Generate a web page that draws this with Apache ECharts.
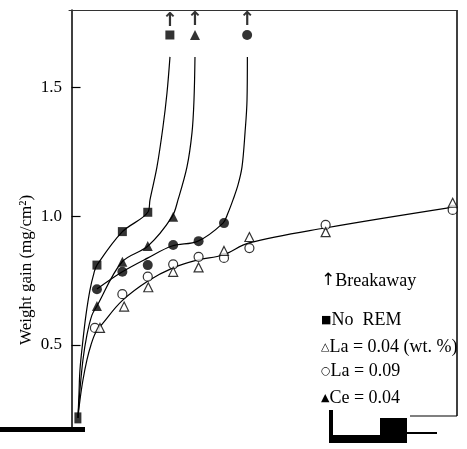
<!DOCTYPE html>
<html><head><meta charset="utf-8">
<script src="https://cdn.jsdelivr.net/npm/echarts@6/dist/echarts.min.js"></script>
<style>html,body{margin:0;padding:0;background:#fff}#c{width:467px;height:449px}</style>
</head><body><div id="c"></div>
<script>
// ---- data (x: exposure index, y: weight gain mg/cm2) ----
const yTicks = [0.5, 1.0, 1.5];
const origin = [[0.25, 0.217]];
const noRemX = [1, 2, 3];
const noRemY = [0.810, 0.940, 1.015];
const ceX = [1, 2, 3, 4];
const ceY = [0.651, 0.823, 0.884, 0.998];
const fcX = [1, 2, 3, 4, 5, 6];
const fcY = [0.716, 0.784, 0.810, 0.888, 0.903, 0.973];
const la09X = [0.92, 2.0, 3.0, 4.0, 5.0, 6.0, 7.0, 10.0, 15.0];
const la09Y = [0.566, 0.697, 0.765, 0.813, 0.842, 0.838, 0.876, 0.966, 1.024];
const la04X = [1.12, 2.07, 3.02, 4.0, 5.0, 6.0, 7.0, 10.0, 15.0];
const la04Y = [0.566, 0.649, 0.724, 0.784, 0.801, 0.865, 0.919, 0.938, 1.052];
const breakX = [3.87, 4.86, 6.91];
const breakY = [1.703, 1.703, 1.703];
// hand-drawn fitted curves
const curveNoRemX = [0.252,0.291,0.331,0.449,0.567,0.724,0.882,1.0,1.984,3.008,3.087,3.362,3.598,3.756,3.874];
const curveNoRemY = [0.217,0.306,0.403,0.519,0.616,0.713,0.779,0.810,0.938,1.016,1.063,1.191,1.346,1.478,1.618];
const curveCeX = [0.252,0.331,0.449,0.606,0.803,1.0,1.984,3.008,3.953,4.189,4.543,4.740,4.819,4.858];
const curveCeY = [0.217,0.325,0.442,0.539,0.616,0.651,0.822,0.884,0.997,1.063,1.191,1.323,1.451,1.618];
const curveFcX = [1.0,1.984,3.008,3.953,4.976,5.961,6.157,6.354,6.551,6.709,6.827,6.906,6.92];
const curveFcY = [0.717,0.783,0.838,0.884,0.903,0.973,1.012,1.063,1.121,1.191,1.323,1.451,1.618];
const curveLaX = [0.252,0.331,0.449,0.606,0.764,0.961,1.236,1.984,3.008,3.992,4.976,5.961,6.984,9.976,15.02];
const curveLaY = [0.217,0.286,0.364,0.442,0.500,0.550,0.585,0.671,0.748,0.799,0.830,0.849,0.896,0.954,1.035];

const zip = (a, b) => a.map((v, i) => [v, b[i]]);
const serif = 'Liberation Serif, DejaVu Serif, serif';
const chart = echarts.init(document.getElementById('c'));

function curve(xs, ys) {
  return { type: 'line', data: zip(xs, ys), smooth: 0.35, showSymbol: false, symbol: 'none',
    lineStyle: { color: '#000', width: 1.2 }, silent: true, z: 2 };
}
function marks(data, symbol, size, filled) {
  return { type: 'scatter', data, symbol, symbolSize: size, z: 5,
    itemStyle: filled ? { color: '#000' } : { color: '#fff', borderColor: '#000', borderWidth: 1.2 } };
}

const legendRich = {
  s: { fontSize: 11, fontFamily: 'DejaVu Sans', fill: '#000' },
  a: { fontSize: 17, fontFamily: 'DejaVu Sans', fill: '#000' },
  t: { fontSize: 18, fontFamily: serif, fill: '#000' }
};
function legText(str, y) {
  return { type: 'text', left: 321, top: y - 11, style: { text: str, rich: legendRich, fill: '#000' } };
}

chart.setOption({
  animation: false,
  backgroundColor: '#fff',
  grid: { left: 69, right: 10, top: 10, bottom: 19 },
  xAxis: [
    { type: 'value', min: -0.1, max: 15.17, axisLine: { show: false }, axisTick: { show: false },
      axisLabel: { show: false }, splitLine: { show: false } },
    { type: 'value', position: 'top', min: -0.1, max: 15.17,
      axisLine: { show: true, lineStyle: { color: '#333', width: 1 } }, axisTick: { show: false },
      axisLabel: { show: false }, splitLine: { show: false } }
  ],
  yAxis: {
    type: 'value', min: 0.17, max: 1.8,
    axisLine: { show: true, lineStyle: { color: '#000', width: 1.5 } },
    axisTick: { show: true, inside: true, length: 9, customValues: yTicks, lineStyle: { color: '#000', width: 1.2 } },
    axisLabel: { show: true, customValues: yTicks, formatter: v => v.toFixed(1), margin: 7,
      fontSize: 17, fontFamily: serif, color: '#000' },
    splitLine: { show: false }
  },
  series: [
    curve(curveNoRemX, curveNoRemY),
    curve(curveCeX, curveCeY),
    curve(curveFcX, curveFcY),
    curve(curveLaX, curveLaY),
    marks(origin, 'rect', [7, 11], true),
    marks(zip(noRemX, noRemY), 'rect', 9, true),
    marks(zip(ceX, ceY), 'triangle', 10, true),
    marks(zip(fcX, fcY), 'circle', 10, true),
    marks(zip(la09X, la09Y), 'circle', 9, false),
    marks(zip(la04X, la04Y), 'triangle', 9, false),
    { type: 'scatter', z: 5,
      data: [
        { value: [breakX[0], breakY[0]], symbol: 'rect', symbolSize: 9 },
        { value: [breakX[1], breakY[1]], symbol: 'triangle', symbolSize: 10 },
        { value: [breakX[2], breakY[2]], symbol: 'circle', symbolSize: 10 }
      ],
      itemStyle: { color: '#000' },
      label: { show: true, position: 'top', distance: 0, formatter: '↑', fontSize: 19,
        fontWeight: 'bold', fontFamily: 'DejaVu Sans', color: '#000' } }
  ],
  graphic: [
    { type: 'text', x: 27, y: 270, rotation: Math.PI / 2,
      style: { text: 'Weight gain (mg/cm²)', fontSize: 17, fontFamily: serif, fill: '#000',
        align: 'center', verticalAlign: 'middle' } },
    legText('{a|↑}{t|Breakaway}', 283),
    legText('{s|■}{t|No  REM}', 322),
    legText('{s|△}{t|La = 0.04 (wt. %)}', 349),
    legText('{s|○}{t|La = 0.09}', 373),
    legText('{s|▲}{t|Ce = 0.04}', 400),
    // frame / scan edges
    { type: 'line', shape: { x1: 457, y1: 10, x2: 457, y2: 416 }, style: { stroke: '#000', lineWidth: 1.5 } },
    { type: 'line', shape: { x1: 410, y1: 416, x2: 457, y2: 416 }, style: { stroke: '#000', lineWidth: 1.2 } },
    { type: 'rect', shape: { x: 0, y: 427, width: 85, height: 5 }, style: { fill: '#000' } },
    { type: 'rect', shape: { x: 329, y: 410, width: 4, height: 33 }, style: { fill: '#000' } },
    { type: 'rect', shape: { x: 329, y: 435, width: 78, height: 8 }, style: { fill: '#000' } },
    { type: 'rect', shape: { x: 380, y: 418, width: 27, height: 25 }, style: { fill: '#000' } },
    { type: 'line', shape: { x1: 405, y1: 433, x2: 437, y2: 433 }, style: { stroke: '#000', lineWidth: 2 } }
  ]
});
</script></body></html>
